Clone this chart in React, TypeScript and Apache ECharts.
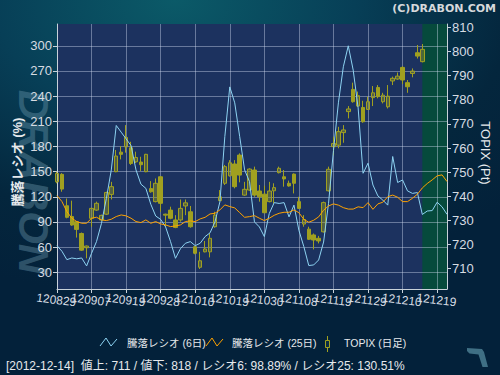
import React, { useEffect, useRef } from 'react';
import * as echarts from 'echarts';

const dates = [
  '120829','120830','120831','120903','120904','120905','120906','120907','120910','120911',
  '120912','120913','120914','120918','120919','120920','120921','120924','120925','120926',
  '120927','120928','121001','121002','121003','121004','121005','121009','121010','121011',
  '121012','121015','121016','121017','121018','121019','121022','121023','121024','121025',
  '121026','121029','121030','121031','121101','121102','121105','121106','121107','121108',
  '121109','121112','121113','121114','121115','121116','121119','121120','121121','121122',
  '121126','121127','121128','121129','121130','121203','121204','121205','121206','121207',
  '121210','121211','121212','121213','121214','121217','121218','121219','121220','121221'
];

const ratio6 = [
  61.7, 55, 45, 47, 46, 47, 37.5, 52.6, 66.5, 88,
  118, 152, 205, 197, 189, 181, 152, 135, 130, 111,
  97, 93, 84, 66.5, 46.6, 58, 64.5, 66.5, 61.7, 64.5,
  72.5, 77, 90, 114, 192, 251, 232, 192, 152, 138,
  90, 84, 72.5, 100, 113, 112, 113, 96, 110, 80,
  60.5, 38, 38.7, 44.6, 66, 112, 175, 232, 275, 300,
  271, 226, 148, 160, 134, 121, 116, 110, 168, 137,
  140, 127, 124, 125, 98.89, 103, 103.5, 113.5, 108, 99
];

const ratio25 = [
  121.4, 114.3, 102.3, 94.4, 90.4, 88.4, 88.4, 94.4, 95.6, 92.4,
  91.6, 93.2, 96.4, 98.3, 97.2, 94.4, 90.4, 89.2, 92.4, 88.4,
  90.4, 87.6, 86.4, 84.4, 85.2, 86.4, 90.4, 91.2, 90.4, 93.6,
  95.5, 99.5, 100.3, 104.3, 110.3, 108.3, 106.7, 101.1, 95.5, 96.3,
  97.5, 94.4, 91.6, 94.4, 97.9, 100.3, 101.5, 101.5, 104.3, 101,
  93, 89.6, 92, 96, 104, 109, 111.5, 110, 107, 105.3,
  105.3, 108, 107, 113, 105, 111.5, 113.5, 120, 122, 119.4,
  114.2, 114.2, 118.2, 123, 130.51, 135.8, 140.1, 144.9, 146.1, 138.1
];

const topixOpen = [
  746.0, 749.1, 736.1, 731.6, 729.5, 724.6, 718.7, 730.9, 734.3, 730.2,
  732.6, 740.8, 750.2, 758.3, 760.5, 760.1, 754.3, 754.2, 750.2, 743.2,
  737.8, 748.1, 732.6, 734.3, 730.2, 730.2, 736.0, 733.6, 719.1, 710.6,
  717.0, 717.0, 727.4, 738.2, 745.4, 748.5, 753.4, 757.1, 740.5, 742.6,
  750.9, 742.2, 740.9, 737.8, 742.3, 749.8, 748.1, 745.4, 749.2, 737.8,
  728.5, 726.4, 724.0, 722.6, 725.3, 742.3, 760.6, 761.2, 766.4, 775.1,
  784.3, 777.4, 776.8, 776.0, 780.9, 785.1, 779.2, 777.1, 787.8, 788.6,
  793.4, 787.1, 790.9, 799.5, 795.8
];
const topixClose = [
  749.5, 743.0, 731.3, 728.1, 726.3, 717.7, 719.4, 735.0, 737.1, 732.1,
  741.6, 744.0, 756.7, 757.4, 764.4, 753.6, 756.1, 753.1, 757.4, 741.9,
  745.4, 737.1, 732.2, 730.9, 727.1, 735.0, 737.3, 727.4, 716.4, 713.3,
  718.2, 722.6, 732.2, 739.8, 752.3, 753.9, 744.0, 748.8, 742.9, 751.3,
  740.5, 739.8, 733.2, 742.2, 743.6, 751.6, 747.2, 744.3, 745.4, 735.0,
  730.4, 722.2, 721.9, 721.5, 737.4, 751.2, 761.9, 766.8, 767.5, 776.2,
  779.2, 781.7, 770.9, 779.2, 782.9, 781.3, 781.9, 781.5, 788.9, 789.8,
  788.2, 785.4, 791.9, 798.1, 800.9
];
const topixLow = [
  745.4, 741.9, 730.9, 727.8, 722.9, 717.4, 714.3, 727.4, 734.0, 729.8,
  732.3, 738.7, 750.0, 755.3, 758.1, 753.0, 753.8, 750.5, 750.0, 741.5,
  737.5, 733.6, 727.4, 730.5, 726.8, 729.5, 732.2, 727.0, 716.0, 709.9,
  716.8, 714.7, 727.0, 738.0, 744.7, 748.2, 743.3, 745.8, 740.2, 742.3,
  739.8, 737.8, 733.0, 737.5, 737.1, 749.5, 744.0, 744.0, 741.2, 734.8,
  727.4, 721.9, 718.0, 720.5, 725.0, 742.0, 757.0, 759.9, 762.2, 772.3,
  778.8, 777.0, 770.5, 775.8, 777.4, 780.6, 778.5, 776.4, 786.1, 788.3,
  786.5, 782.9, 789.3, 797.1, 795.5
];
const topixHigh = [
  750.2, 749.6, 739.1, 738.2, 729.8, 725.0, 719.6, 735.3, 737.8, 732.4,
  741.9, 746.0, 759.2, 760.8, 769.5, 762.6, 758.5, 756.4, 757.6, 746.3,
  747.4, 748.3, 732.8, 735.7, 732.2, 738.7, 738.7, 736.0, 719.4, 717.0,
  721.5, 724.6, 733.6, 742.6, 753.0, 755.0, 755.0, 757.8, 746.0, 751.6,
  752.3, 744.7, 744.4, 746.0, 745.4, 752.3, 750.9, 746.5, 749.5, 739.8,
  732.2, 727.4, 724.6, 723.6, 737.8, 752.3, 764.7, 768.8, 769.5, 777.4,
  787.1, 783.4, 779.6, 781.3, 785.7, 786.1, 782.9, 786.1, 789.6, 791.3,
  793.9, 788.2, 793.0, 802.7, 803.1
];

const leftTicks = [30, 60, 90, 120, 150, 180, 210, 240, 270, 300];
const rightTicks = [710, 720, 730, 740, 750, 760, 770, 780, 790, 800, 810];
const labelStep = 7;

const lastDataDate = '121214';
const statusText = '[2012-12-14]  値上: 711 / 値下: 818 / レシオ6: 98.89% / レシオ25: 130.51%';

const FONT = "'Liberation Sans', 'Noto Sans CJK JP', sans-serif";
const AXIS_COLOR = '#c9d2da';
const LABEL_COLOR = '#d6dce2';
const GRID_LINE = 'rgba(210,220,240,0.42)';
const OLIVE = '#a0a020';
const BLUE = '#8dd3f2';
const ORANGE = '#ffa200';

export default function App() {
  const ref = useRef<HTMLDivElement>(null);

  useEffect(() => {
    const chart = echarts.init(ref.current!, null, { renderer: 'svg' });
    const candles = topixOpen.map((o, i) => [o, topixClose[i], topixLow[i], topixHigh[i]]);
    const onStep = (i: number) => i % labelStep === 0;

    chart.setOption({
      animation: false,
      backgroundColor: 'transparent',
      textStyle: { fontFamily: FONT },
      grid: { left: 57, right: 53, top: 24, bottom: 86, show: false },
      xAxis: {
        type: 'category',
        data: dates,
        boundaryGap: false,
        z: 1,
        axisLine: { show: true, lineStyle: { color: AXIS_COLOR, width: 1 } },
        axisTick: { show: true, interval: onStep, length: 4, lineStyle: { color: AXIS_COLOR } },
        axisLabel: {
          interval: 0,
          formatter: (v: string, i: number) => (onStep(i) ? v : ''),
          color: LABEL_COLOR,
          fontSize: 12,
          fontFamily: FONT,
          rotate: -7,
          align: 'center',
          verticalAlign: 'top',
          margin: 5,
        },
        splitLine: { show: true, interval: onStep, lineStyle: { color: GRID_LINE, width: 1 } },
      },
      yAxis: [
        {
          type: 'value',
          position: 'left',
          min: 10,
          max: 326,
          z: 1,
          axisLine: { show: true, lineStyle: { color: AXIS_COLOR, width: 1 } },
          axisTick: { show: true, length: 4, customValues: leftTicks, lineStyle: { color: AXIS_COLOR } },
          axisLabel: { customValues: leftTicks, color: LABEL_COLOR, fontSize: 13, fontFamily: FONT, margin: 5 },
          splitLine: { show: true, lineStyle: { color: GRID_LINE, width: 1 } },
        },
        {
          type: 'value',
          position: 'right',
          min: 701.6,
          max: 811.4,
          z: 1,
          axisLine: { show: true, lineStyle: { color: AXIS_COLOR, width: 1 } },
          axisTick: { show: true, length: 4, customValues: rightTicks, lineStyle: { color: AXIS_COLOR } },
          axisLabel: { customValues: rightTicks, color: LABEL_COLOR, fontSize: 13, fontFamily: FONT, margin: 5 },
          splitLine: { show: false },
        },
      ],
      series: [
        {
          name: 'bg',
          type: 'line',
          data: [],
          z: -1,
          silent: true,
          markArea: {
            silent: true,
            z: -1,
            data: [
              [{ xAxis: dates[0], itemStyle: { color: '#1c325f' } }, { xAxis: dates[dates.length - 1] }],
              [{ xAxis: lastDataDate, itemStyle: { color: '#064a3c' } }, { xAxis: dates[dates.length - 1] }],
            ],
          },
        },
        {
          name: 'TOPIX (日足)',
          type: 'candlestick',
          yAxisIndex: 1,
          data: candles,
          barWidth: 4,
          itemStyle: {
            color: 'rgba(160,160,32,0.42)',
            color0: OLIVE,
            borderColor: OLIVE,
            borderColor0: OLIVE,
            borderWidth: 1,
          },
        },
        {
          name: '騰落レシオ (6日)',
          type: 'line',
          yAxisIndex: 0,
          data: ratio6,
          symbol: 'none',
          lineStyle: { color: BLUE, width: 1 },
          itemStyle: { color: BLUE },
          z: 3,
        },
        {
          name: '騰落レシオ (25日)',
          type: 'line',
          yAxisIndex: 0,
          data: ratio25,
          symbol: 'none',
          lineStyle: { color: ORANGE, width: 1 },
          itemStyle: { color: ORANGE },
          z: 4,
        },
      ],
      graphic: [
        {
          type: 'text', x: 33, y: 182, rotation: -Math.PI / 2, z: 0, silent: true,
          style: {
            text: 'DRABON', fontFamily: "'Liberation Sans', sans-serif", fontSize: 42,
            fontWeight: 900, fontStyle: 'italic', fill: 'rgba(115,160,180,0.38)',
            align: 'center', verticalAlign: 'middle',
          },
        },
        {
          type: 'text', x: 17, y: 162, rotation: Math.PI / 2, z: 5,
          style: {
            text: '騰落レシオ (%)', fontFamily: FONT, fontSize: 13, fontWeight: 'bold',
            fill: '#e6e9ec', align: 'center', verticalAlign: 'middle',
          },
        },
        {
          type: 'text', x: 485, y: 153, rotation: -Math.PI / 2, z: 5,
          style: {
            text: 'TOPIX (Pt)', fontFamily: FONT, fontSize: 13,
            fill: '#e6e9ec', align: 'center', verticalAlign: 'middle',
          },
        },
        {
          type: 'text', x: 496, y: 8, z: 5,
          style: {
            text: '(C)DRABON.COM', fontFamily: "'DejaVu Sans', sans-serif", fontSize: 11, fontWeight: 'bold',
            fill: '#d6d9dc', align: 'right', verticalAlign: 'middle',
          },
        },
        {
          type: 'polyline', z: 5,
          shape: { points: [[100, 346], [106, 338], [111, 346], [117, 339]] },
          style: { stroke: BLUE, lineWidth: 1, fill: null },
        },
        {
          type: 'text', x: 127, y: 343, z: 5,
          style: { text: '騰落レシオ (6日)', fontFamily: FONT, fontSize: 10.5, fill: '#e6e9ec', verticalAlign: 'middle' },
        },
        {
          type: 'polyline', z: 5,
          shape: { points: [[206, 346], [212, 338], [217, 346], [223, 339]] },
          style: { stroke: ORANGE, lineWidth: 1, fill: null },
        },
        {
          type: 'text', x: 232, y: 343, z: 5,
          style: { text: '騰落レシオ (25日)', fontFamily: FONT, fontSize: 10.5, fill: '#e6e9ec', verticalAlign: 'middle' },
        },
        {
          type: 'line', z: 5,
          shape: { x1: 327.5, y1: 336, x2: 327.5, y2: 352 },
          style: { stroke: OLIVE, lineWidth: 1 },
        },
        {
          type: 'rect', z: 6,
          shape: { x: 325.5, y: 340.5, width: 4, height: 7 },
          style: { fill: '#0b2c44', stroke: OLIVE, lineWidth: 1 },
        },
        {
          type: 'text', x: 344, y: 343, z: 5,
          style: { text: 'TOPIX (日足)', fontFamily: FONT, fontSize: 10.5, fill: '#e6e9ec', verticalAlign: 'middle' },
        },
        {
          type: 'text', x: 6, y: 366, z: 5,
          style: { text: statusText, fontFamily: FONT, fontSize: 12, fill: '#e6e9ec', verticalAlign: 'middle' },
        },
        {
          type: 'polygon', z: 5, silent: true,
          shape: {
            points: [[467, 348], [482, 349], [484, 352], [488, 367], [482.5, 367], [478.5, 354.5], [469.5, 353.5], [467, 351]],
          },
          style: { fill: '#3f6f84' },
        },
      ],
    });

    return () => chart.dispose();
  }, []);

  return (
    <div
      ref={ref}
      style={{
        position: 'absolute',
        left: 0,
        top: 0,
        width: 500,
        height: 375,
        background: 'radial-gradient(ellipse 90% 80% at 35% 0%, #0b5a68 0%, #073f57 40%, #04263d 75%, #03213a 100%)',
      }}
    />
  );
}
